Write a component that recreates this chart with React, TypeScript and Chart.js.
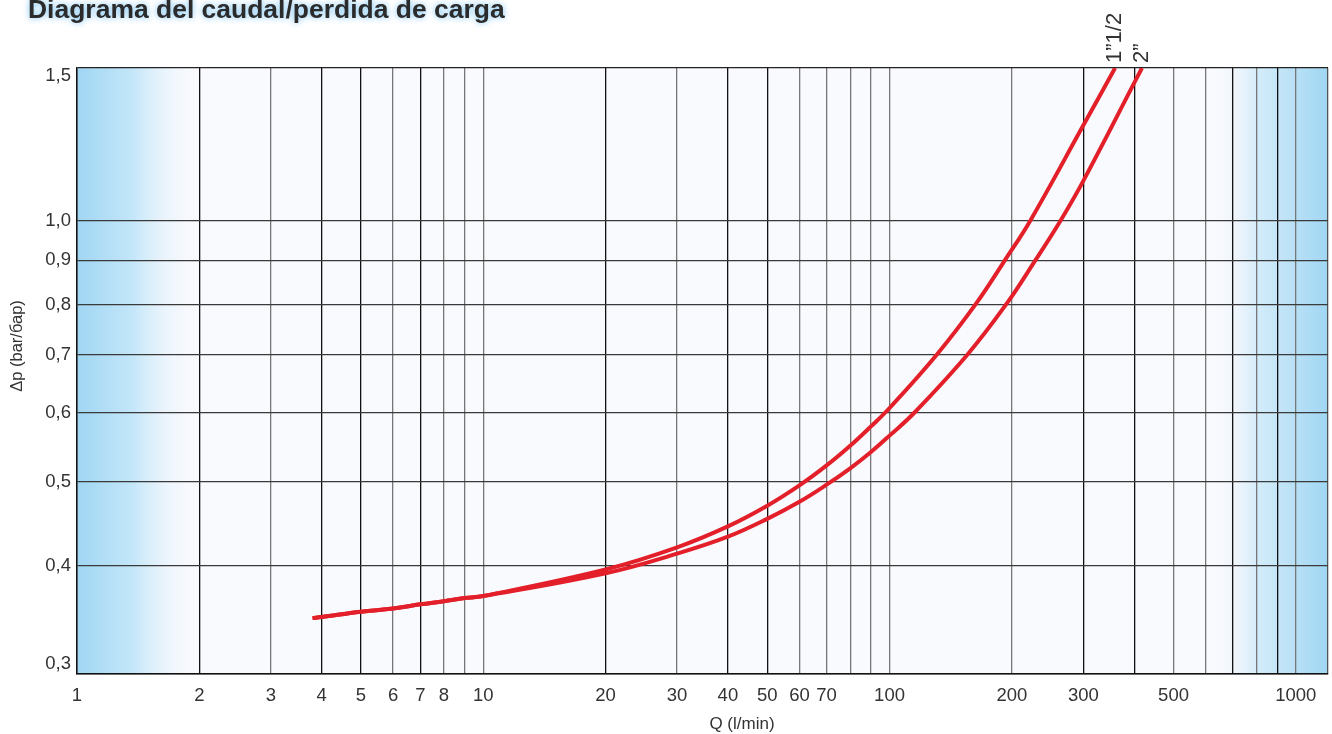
import React, { useEffect, useRef } from 'react';
import { Chart, registerables } from 'chart.js';

Chart.register(...registerables);

const chartTitle = 'Diagrama del caudal/perdida de carga';
const xAxisTitle = 'Q (l/min)';
const yAxisTitle = 'Δp (bar/бар)';
const seriesNames = ['1”1/2', '2”'];

// Series 1"1/2
const flow15 = [3.8, 4, 5, 6, 7, 8, 9, 10, 20, 30, 40, 50, 60, 70, 80, 90, 100, 130.5, 162.6, 192.2, 222, 298.5, 359];
const loss15 = [0.348, 0.349, 0.354, 0.357, 0.361, 0.364, 0.367, 0.369, 0.396, 0.42, 0.444, 0.469, 0.495, 0.522, 0.55, 0.579, 0.608, 0.7, 0.8, 0.9, 1.0, 1.283, 1.5];

// Series 2"
const flow2 = [3.8, 4, 5, 6, 7, 8, 9, 10, 20, 30, 40, 50, 60, 70, 80, 90, 100, 114.9, 155.2, 193.4, 227.4, 262.8, 298.5, 405.5, 418];
const loss2 = [0.348, 0.349, 0.354, 0.357, 0.361, 0.364, 0.367, 0.369, 0.392, 0.413, 0.432, 0.453, 0.474, 0.496, 0.518, 0.541, 0.565, 0.6, 0.7, 0.8, 0.897, 0.998, 1.107, 1.459, 1.5];

const xMin = 1;
const xMax = 1200;
const yMin = 0.3;
const yMax = 1.5;

const xGridValues = [1, 2, 3, 4, 5, 6, 7, 8, 9, 10, 20, 30, 40, 50, 60, 70, 80, 90, 100, 200, 300, 400, 500, 600, 700, 800, 900, 1000, 1200];
const xLabelValues = [1, 2, 3, 4, 5, 6, 7, 8, 10, 20, 30, 40, 50, 60, 70, 100, 200, 300, 500, 1000];
const xDarkGrid = [2, 4, 5, 7, 20, 40, 50, 300, 400, 700, 900];

const yTickValues = [0.3, 0.4, 0.5, 0.6, 0.7, 0.8, 0.9, 1.0, 1.5];
const yTickLabels = ['0,3', '0,4', '0,5', '0,6', '0,7', '0,8', '0,9', '1,0', '1,5'];

const FONT = "'Liberation Sans', Arial, Helvetica, sans-serif";
const RED = '#e3202a';

const decorPlugin = {
  id: 'decor',
  beforeDraw(chart: any) {
    const { ctx, chartArea } = chart;
    const { left, right, top, bottom } = chartArea;
    ctx.save();
    ctx.fillStyle = '#f9fafe';
    ctx.fillRect(left, top, right - left, bottom - top);
    const gl = ctx.createLinearGradient(left, 0, left + 125, 0);
    gl.addColorStop(0, 'rgba(160,214,243,1)');
    gl.addColorStop(0.45, 'rgba(196,230,248,1)');
    gl.addColorStop(1, 'rgba(249,250,254,0)');
    ctx.fillStyle = gl;
    ctx.fillRect(left, top, 125, bottom - top);
    const gr = ctx.createLinearGradient(right - 118, 0, right, 0);
    gr.addColorStop(0, 'rgba(249,250,254,0)');
    gr.addColorStop(0.4, 'rgba(212,236,249,1)');
    gr.addColorStop(1, 'rgba(160,214,243,1)');
    ctx.fillStyle = gr;
    ctx.fillRect(right - 118, top, 118, bottom - top);
    ctx.restore();
  },
  afterDraw(chart: any) {
    const { ctx, chartArea } = chart;
    const xs = chart.scales.x;
    const ys = chart.scales.y;
    ctx.save();

    // Title with light-blue glow
    let size = 25;
    ctx.font = `bold ${size}px ${FONT}`;
    const w = ctx.measureText(chartTitle).width;
    size = size * (477 / w);
    ctx.font = `bold ${size}px ${FONT}`;
    ctx.textAlign = 'left';
    ctx.textBaseline = 'alphabetic';
    ctx.shadowColor = 'rgba(100,185,240,0.9)';
    ctx.shadowBlur = 6;
    ctx.fillStyle = '#2b2b2b';
    ctx.fillText(chartTitle, 28, 18);
    ctx.shadowBlur = 0;
    ctx.shadowColor = 'transparent';

    // Y tick labels
    ctx.font = `18.5px ${FONT}`;
    ctx.fillStyle = '#333';
    ctx.textAlign = 'right';
    ctx.textBaseline = 'middle';
    yTickValues.forEach((v, i) => {
      let py = ys.getPixelForValue(v);
      py = Math.max(chartArea.top + 8, Math.min(chartArea.bottom - 10, py));
      ctx.fillText(yTickLabels[i], chartArea.left - 6, py);
    });

    // X axis title
    ctx.font = `17px ${FONT}`;
    ctx.textAlign = 'center';
    ctx.fillText(xAxisTitle, 742, 724);

    // Y axis title
    ctx.save();
    ctx.translate(17, 346);
    ctx.rotate(-Math.PI / 2);
    ctx.font = `16.5px ${FONT}`;
    ctx.textAlign = 'center';
    ctx.textBaseline = 'middle';
    ctx.fillText(yAxisTitle, 0, 0);
    ctx.restore();

    // Series labels at the top end of each curve
    const ends = [flow15[flow15.length - 1], flow2[flow2.length - 1]];
    ctx.font = `22px ${FONT}`;
    ends.forEach((xv, i) => {
      const px = xs.getPixelForValue(xv);
      ctx.save();
      ctx.translate(px, chartArea.top - 5);
      ctx.rotate(-Math.PI / 2);
      ctx.textAlign = 'left';
      ctx.textBaseline = 'middle';
      ctx.fillStyle = '#333';
      ctx.fillText(seriesNames[i], 0, 0);
      ctx.restore();
    });

    ctx.restore();
  },
};

export default function App() {
  const canvasRef = useRef<HTMLCanvasElement | null>(null);

  useEffect(() => {
    if (!canvasRef.current) return;
    const chart = new Chart(canvasRef.current, {
      type: 'line',
      data: {
        datasets: [
          {
            label: seriesNames[0],
            data: flow15.map((x, i) => ({ x, y: loss15[i] })),
            borderColor: RED,
            borderWidth: 4,
            pointRadius: 0,
            tension: 0.4,
            fill: false,
          },
          {
            label: seriesNames[1],
            data: flow2.map((x, i) => ({ x, y: loss2[i] })),
            borderColor: RED,
            borderWidth: 4,
            pointRadius: 0,
            tension: 0.4,
            fill: false,
          },
        ],
      },
      options: {
        animation: false,
        responsive: true,
        maintainAspectRatio: false,
        layout: { padding: { left: 0, top: 68, right: 4, bottom: 0 } },
        plugins: {
          legend: { display: false },
          tooltip: { enabled: false },
          title: { display: false },
        },
        scales: {
          x: {
            type: 'logarithmic',
            min: xMin,
            max: xMax,
            afterBuildTicks: (scale: any) => {
              scale.ticks = xGridValues.map((v) => ({ value: v }));
            },
            afterFit: (scale: any) => {
              scale.height = 60;
            },
            ticks: {
              autoSkip: false,
              maxRotation: 0,
              minRotation: 0,
              padding: 0,
              color: '#333',
              font: { family: FONT, size: 18.5, lineHeight: 2.4 },
              callback: (value: any) => (xLabelValues.includes(Number(value)) ? String(value) : ''),
            },
            grid: {
              drawTicks: false,
              lineWidth: 1.3,
              color: (ctx: any) => {
                const v = ctx.tick ? ctx.tick.value : null;
                if (v === xMax) return '#555';
                return xDarkGrid.includes(v) ? '#111' : '#777';
              },
            },
            border: { display: true, color: '#111', width: 1.5 },
          },
          y: {
            type: 'logarithmic',
            min: yMin,
            max: yMax,
            afterBuildTicks: (scale: any) => {
              scale.ticks = yTickValues.map((v) => ({ value: v }));
            },
            afterFit: (scale: any) => {
              scale.width = 77;
            },
            ticks: { display: false },
            grid: {
              drawTicks: false,
              lineWidth: 1.3,
              color: (ctx: any) => (ctx.tick && ctx.tick.value === yMax ? '#222' : '#3a3a3a'),
            },
            border: { display: true, color: '#111', width: 1.5 },
          },
        },
      },
      plugins: [decorPlugin],
    } as any);
    return () => chart.destroy();
  }, []);

  return (
    <div style={{ position: 'fixed', left: 0, top: 0, width: 1332, height: 734, background: '#fff' }}>
      <canvas ref={canvasRef} />
    </div>
  );
}
